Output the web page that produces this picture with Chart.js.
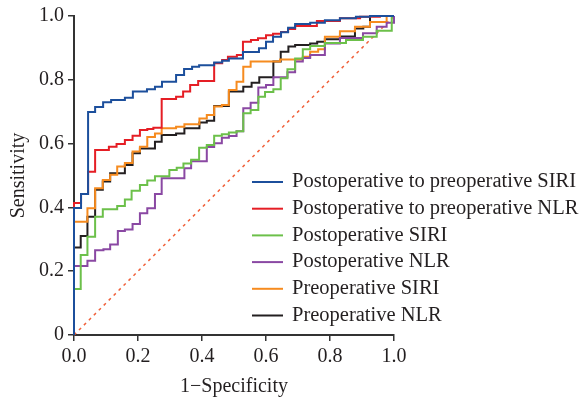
<!DOCTYPE html>
<html>
<head>
<meta charset="utf-8">
<script src="https://cdn.jsdelivr.net/npm/chart.js@4.4.1/dist/chart.umd.min.js"></script>
<style>
body { margin: 0; background: #fff; }
#wrap { width: 579px; height: 400px; }
</style>
</head>
<body>
<div id="wrap"><canvas id="roc" width="579" height="400"></canvas></div>
<script>
// series names, in legend order
const seriesNames = [
    'Postoperative to preoperative SIRI',
    'Postoperative to preoperative NLR',
    'Postoperative SIRI',
    'Postoperative NLR',
    'Preoperative SIRI',
    'Preoperative NLR'
];
const seriesColors = ['#1c4f9c', '#e51e25', '#6cc04a', '#8a48a3', '#f68b1f', '#231f20'];

// ROC points (1-specificity, sensitivity)
const ratioSiriFpr = [0, 0, 0.022, 0.044, 0.066, 0.091, 0.116, 0.159, 0.184, 0.228, 0.253, 0.275, 0.319, 0.344, 0.369, 0.391, 0.438, 0.463, 0.484, 0.528, 0.578, 0.600, 0.622, 0.647, 0.669, 0.691, 0.738, 0.784, 0.831, 0.881, 0.925, 1];
const ratioSiriTpr = [0, 0.398, 0.442, 0.699, 0.715, 0.730, 0.737, 0.744, 0.763, 0.770, 0.778, 0.794, 0.815, 0.834, 0.841, 0.846, 0.854, 0.860, 0.867, 0.887, 0.899, 0.919, 0.935, 0.949, 0.963, 0.975, 0.979, 0.987, 0.993, 0.998, 1, 1];

const ratioNlrFpr = [0, 0, 0.022, 0.044, 0.066, 0.109, 0.133, 0.159, 0.183, 0.206, 0.229, 0.248, 0.274, 0.319, 0.341, 0.363, 0.388, 0.438, 0.463, 0.481, 0.509, 0.528, 0.553, 0.575, 0.600, 0.622, 0.647, 0.669, 0.691, 0.759, 0.831, 0.894, 0.956, 1];
const ratioNlrTpr = [0, 0.414, 0.442, 0.512, 0.580, 0.590, 0.599, 0.611, 0.625, 0.643, 0.646, 0.650, 0.740, 0.747, 0.763, 0.784, 0.796, 0.852, 0.862, 0.872, 0.878, 0.919, 0.925, 0.930, 0.940, 0.944, 0.950, 0.959, 0.969, 0.984, 0.993, 0.998, 1, 1];

const postSiriFpr = [0, 0, 0.021, 0.042, 0.066, 0.090, 0.135, 0.159, 0.180, 0.206, 0.229, 0.253, 0.298, 0.321, 0.342, 0.366, 0.391, 0.415, 0.438, 0.462, 0.484, 0.508, 0.529, 0.552, 0.576, 0.597, 0.623, 0.646, 0.667, 0.691, 0.715, 0.738, 0.784, 0.850, 0.903, 0.946, 0.993, 1];
const postSiriTpr = [0, 0.144, 0.251, 0.308, 0.371, 0.394, 0.404, 0.425, 0.452, 0.470, 0.484, 0.498, 0.517, 0.524, 0.538, 0.549, 0.587, 0.596, 0.625, 0.629, 0.635, 0.639, 0.695, 0.705, 0.747, 0.762, 0.770, 0.805, 0.833, 0.867, 0.896, 0.906, 0.915, 0.925, 0.935, 0.954, 1, 1];

const postNlrFpr = [0, 0, 0.042, 0.066, 0.092, 0.113, 0.137, 0.159, 0.183, 0.206, 0.229, 0.253, 0.274, 0.345, 0.366, 0.415, 0.438, 0.462, 0.484, 0.508, 0.529, 0.552, 0.576, 0.600, 0.623, 0.667, 0.691, 0.715, 0.738, 0.784, 0.831, 0.903, 0.946, 0.977, 1];
const postNlrTpr = [0, 0.216, 0.233, 0.266, 0.269, 0.284, 0.326, 0.331, 0.348, 0.382, 0.397, 0.442, 0.491, 0.523, 0.545, 0.589, 0.601, 0.618, 0.624, 0.639, 0.711, 0.728, 0.776, 0.784, 0.808, 0.824, 0.857, 0.868, 0.878, 0.914, 0.931, 0.946, 0.966, 0.979, 1];

const preSiriFpr = [0, 0, 0.042, 0.066, 0.090, 0.113, 0.135, 0.159, 0.183, 0.206, 0.229, 0.253, 0.274, 0.319, 0.345, 0.392, 0.415, 0.438, 0.462, 0.484, 0.508, 0.529, 0.552, 0.644, 0.715, 0.738, 0.763, 0.784, 0.831, 0.878, 0.925, 0.977, 1];
const preSiriTpr = [0, 0.355, 0.397, 0.460, 0.486, 0.502, 0.528, 0.539, 0.575, 0.590, 0.621, 0.632, 0.648, 0.653, 0.661, 0.679, 0.690, 0.716, 0.721, 0.768, 0.794, 0.841, 0.857, 0.864, 0.872, 0.888, 0.896, 0.935, 0.952, 0.966, 0.981, 1, 1];

const preNlrFpr = [0, 0, 0.021, 0.042, 0.066, 0.090, 0.113, 0.159, 0.183, 0.206, 0.253, 0.274, 0.319, 0.345, 0.392, 0.415, 0.438, 0.484, 0.529, 0.555, 0.579, 0.623, 0.646, 0.670, 0.691, 0.738, 0.760, 0.784, 0.831, 0.878, 0.904, 0.925, 1];
const preNlrTpr = [0, 0.274, 0.310, 0.371, 0.455, 0.481, 0.507, 0.533, 0.570, 0.585, 0.606, 0.627, 0.632, 0.648, 0.666, 0.672, 0.718, 0.763, 0.778, 0.791, 0.808, 0.857, 0.888, 0.904, 0.909, 0.914, 0.919, 0.927, 0.936, 0.961, 0.966, 1, 1];

// reference line
const chanceFpr = [0, 1];
const chanceTpr = [0, 1];

const axisTicks = [0, 0.2, 0.4, 0.6, 0.8, 1.0];

const curveFpr = [ratioSiriFpr, ratioNlrFpr, postSiriFpr, postNlrFpr, preSiriFpr, preNlrFpr];
const curveTpr = [ratioSiriTpr, ratioNlrTpr, postSiriTpr, postNlrTpr, preSiriTpr, preNlrTpr];

const serif = "'Liberation Serif', 'Times New Roman', serif";
const inkColor = '#231f20';

function toPoints(xs, ys) {
    return xs.map((x, i) => ({ x: x, y: ys[i] }));
}

// legend drawn inside the plot, line + text
const insideLegend = {
    id: 'insideLegend',
    afterDraw(chart, args, opts) {
        const { ctx } = chart;
        ctx.save();
        ctx.font = opts.font;
        ctx.textAlign = 'left';
        ctx.textBaseline = 'middle';
        chart.data.datasets.forEach((ds, i) => {
            if (ds.noLegend) return;
            const y = opts.top + i * opts.gap;
            ctx.strokeStyle = ds.borderColor;
            ctx.lineWidth = 2;
            ctx.beginPath();
            ctx.moveTo(opts.x, y);
            ctx.lineTo(opts.x + opts.lineLen, y);
            ctx.stroke();
            ctx.fillStyle = inkColor;
            ctx.fillText(ds.label, opts.x + opts.lineLen + opts.textGap, y);
        });
        ctx.restore();
    }
};

const datasets = seriesNames.map((name, i) => ({
    label: name,
    data: toPoints(curveFpr[i], curveTpr[i]),
    borderColor: seriesColors[i],
    borderWidth: 2,
    pointRadius: 0,
    stepped: 'before',
    fill: false,
    clip: false
}));
datasets.push({
    label: 'chance',
    noLegend: true,
    data: toPoints(chanceFpr, chanceTpr),
    borderColor: '#f0603a',
    borderWidth: 1.5,
    borderDash: [3, 4],
    pointRadius: 0,
    fill: false,
    clip: false
});

const tickFont = { family: serif, size: 20 };
const titleFont = { family: serif, size: 20 };

new Chart(document.getElementById('roc'), {
    type: 'line',
    data: { datasets },
    options: {
        responsive: false,
        animation: false,
        layout: { padding: { top: 16, right: 185, bottom: 0, left: 0 } },
        plugins: {
            legend: { display: false },
            tooltip: { enabled: false },
            insideLegend: { x: 252, top: 182, gap: 26.7, lineLen: 31, textGap: 9, font: `20.5px ${serif}` }
        },
        scales: {
            x: {
                type: 'linear', min: 0, max: 1,
                afterFit(s) { s.height = 65; },
                afterBuildTicks(s) { s.ticks = axisTicks.map(v => ({ value: v })); },
                ticks: { callback: v => v.toFixed(1), font: tickFont, color: inkColor, padding: 4, maxRotation: 0 },
                grid: { drawOnChartArea: false, tickLength: 6, color: '#333', lineWidth: 1.5 },
                border: { color: '#333', width: 2 },
                title: { display: true, text: '1−Specificity', font: titleFont, color: inkColor, padding: { top: 0, bottom: 1 } }
            },
            y: {
                type: 'linear', min: 0, max: 1,
                afterFit(s) { s.width = 74; },
                afterBuildTicks(s) { s.ticks = axisTicks.map(v => ({ value: v })); },
                ticks: { callback: v => (v === 0 ? '0' : v.toFixed(1)), font: tickFont, color: inkColor, padding: 4 },
                grid: { drawOnChartArea: false, tickLength: 6, color: '#333', lineWidth: 1.5 },
                border: { color: '#333', width: 2 },
                title: { display: true, text: 'Sensitivity', font: titleFont, color: inkColor, padding: { top: 7, bottom: 0 } }
            }
        }
    },
    plugins: [insideLegend]
});
</script>
</body>
</html>
